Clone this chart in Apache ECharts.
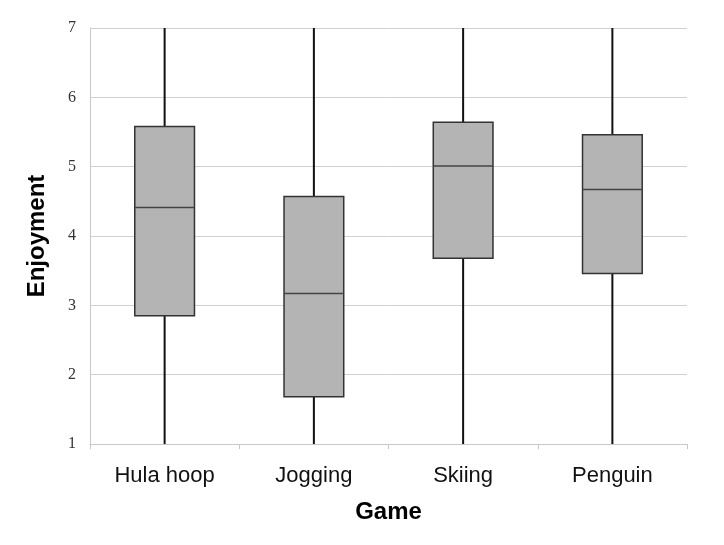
<!DOCTYPE html>
<html>
<head>
<meta charset="utf-8">
<script src="https://cdn.jsdelivr.net/npm/echarts@6/dist/echarts.min.js"></script>
<style>
  html, body { margin: 0; padding: 0; background: #fff; }
  #main { width: 724px; height: 545px; }
</style>
</head>
<body>
<div id="main"></div>
<script>
// categories and box values (min, Q1, median, Q3, max)
var games = ['Hula hoop', 'Jogging', 'Skiing', 'Penguin'];
var mins = [1, 1, 1, 1];
var q1s = [2.85, 1.68, 3.68, 3.46];
var medians = [4.41, 3.17, 5.01, 4.67];
var q3s = [5.58, 4.57, 5.64, 5.46];
var maxs = [7, 7, 7, 7];
var yTicks = [1, 2, 3, 4, 5, 6, 7];

var boxData = games.map(function (g, i) {
  return [i, mins[i], q1s[i], medians[i], q3s[i], maxs[i]];
});

var myChart = echarts.init(document.getElementById('main'));

// whisker without caps + box + median line
function renderBox(params, api) {
  var idx = api.value(0);
  var band = api.size([1, 0])[0];
  var half = band * 0.2;
  var pMin = api.coord([idx, api.value(1)]);
  var pQ1 = api.coord([idx, api.value(2)]);
  var pMed = api.coord([idx, api.value(3)]);
  var pQ3 = api.coord([idx, api.value(4)]);
  var pMax = api.coord([idx, api.value(5)]);
  var x = pMin[0];
  return {
    type: 'group',
    children: [
      {
        type: 'line',
        shape: { x1: x, y1: pMin[1], x2: x, y2: pMax[1] },
        style: { stroke: '#111', lineWidth: 2 }
      },
      {
        type: 'rect',
        shape: { x: x - half, y: pQ3[1], width: half * 2, height: pQ1[1] - pQ3[1] },
        style: { fill: '#b4b4b4', stroke: '#333', lineWidth: 1.5 }
      },
      {
        type: 'line',
        shape: { x1: x - half, y1: pMed[1], x2: x + half, y2: pMed[1] },
        style: { stroke: '#444', lineWidth: 1.5 }
      }
    ]
  };
}

var option = {
  animation: false,
  grid: { left: 90, right: 37, top: 28, bottom: 101 },
  xAxis: {
    type: 'category',
    data: games,
    name: 'Game',
    nameLocation: 'middle',
    nameGap: 56,
    nameTextStyle: { fontFamily: 'Liberation Sans', fontWeight: 'bold', fontSize: 24, color: '#000' },
    axisLine: { lineStyle: { color: '#c8c8c8' } },
    axisTick: { show: true, length: 5, lineStyle: { color: '#c8c8c8' } },
    axisLabel: { fontFamily: 'Liberation Sans', fontSize: 22, color: '#111', margin: 21 },
    splitLine: { show: false }
  },
  yAxis: {
    type: 'value',
    min: 1,
    max: 7,
    interval: 1,
    name: 'Enjoyment',
    nameLocation: 'middle',
    nameGap: 41,
    nameTextStyle: { fontFamily: 'Liberation Sans', fontWeight: 'bold', fontSize: 24, color: '#000' },
    axisLine: { show: true, lineStyle: { color: '#c8c8c8' } },
    axisTick: { show: false },
    axisLabel: {
      fontFamily: 'Liberation Serif', fontSize: 16, color: '#333', margin: 14,
      formatter: function (v) { return yTicks.indexOf(v) >= 0 ? String(v) : ''; }
    },
    splitLine: { lineStyle: { color: '#d0d0d0' } }
  },
  series: [{
    type: 'custom',
    renderItem: renderBox,
    encode: { x: 0, y: [1, 2, 3, 4, 5] },
    data: boxData
  }]
};

myChart.setOption(option);
</script>
</body>
</html>
